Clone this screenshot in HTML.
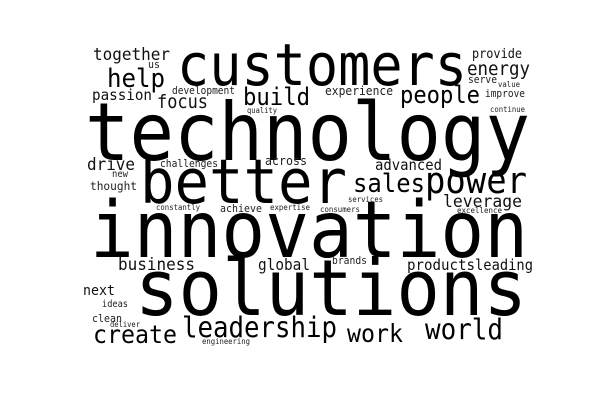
<!DOCTYPE html>
<html><head><meta charset="utf-8"><style>
html,body{margin:0;padding:0;background:#fff;}
svg{display:block;}
text{font-family:"DejaVu Sans Mono","Liberation Mono",monospace;}
</style></head><body>
<svg id="cloud" width="600" height="400" viewBox="0 0 600 400" xmlns="http://www.w3.org/2000/svg">
<rect width="600" height="400" fill="#fff"/>
</svg>
<script>
const words = ["technology","customers","together","us","help","passion","development","focus","quality","build","experience","people","provide","energy","serve","value","improve","continue","drive","new","challenges","across","advanced","thought","better","sales","power","services","leverage","constantly","achieve","expertise","consumers","excellence","innovation","business","global","brands","products","leading","next","solutions","ideas","clean","deliver","create","leadership","work","world","engineering"];
const sizes = [74,54,16,10,24,14,9.5,17,7,22,11.3,22,12,17.5,9.5,7.3,9.5,7.3,16,9,9.7,11.6,14,11,57,24,34,7.3,16,7.3,10,7.4,7.4,7.4,73,16,14.4,9.7,14,13.8,13,72,9,10,7,23,26,23,26,7.3];
const xs = [85,177,93,148,107,92,172,157,247,243,325,400,472,467,468,498,485,490,87,112,160,265,375,90,140,353,425,348,443,156,220,270,320,457,90,118,258,332,407,475,83,135,102,92,110,93,182,347,425,202];
const ys = [160,85,60,68,87,100,94,108,113,105,95,103,58,75,83,87,97,112,170,177,167,165,170,190,203,192,193,202,207,210,212,210,212,213,257,270,270,264,270,270,295,315,307,322,327,343,337,342,339,344];
const widths = [445,290,77,12,58,60,63,51,30,67,68,80,50,63,29,22,40,35,48,16,58,42,67,47,207,72,102,35,79,44,42,40,40,45,438,77,52,35,68,58,32,392,26,30,30,84,155,56,78,48];
const svg = document.getElementById('cloud');
const NS = 'http://www.w3.org/2000/svg';
words.forEach((w,i)=>{
  const t = document.createElementNS(NS,'text');
  t.setAttribute('x', xs[i]);
  t.setAttribute('y', ys[i]);
  t.setAttribute('font-size', sizes[i] * 1.08);
  t.setAttribute('textLength', widths[i]);
  t.setAttribute('lengthAdjust', 'spacingAndGlyphs');
  const c = sizes[i] >= 20 ? '#000' : (sizes[i] >= 12 ? '#111' : '#222');
  t.setAttribute('fill', c);
  t.textContent = w;
  
  
  svg.appendChild(t);
});
</script>
</body></html>
